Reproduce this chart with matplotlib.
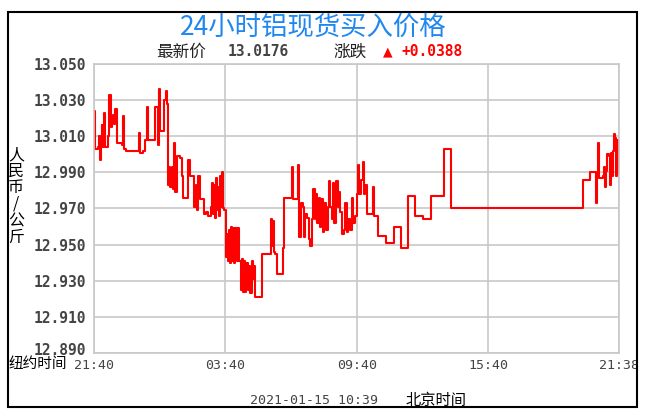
import matplotlib
matplotlib.use("Agg")
import matplotlib.pyplot as plt
from matplotlib.patches import Rectangle
from matplotlib.transforms import ScaledTranslation

# minutes after 21:40 (New York time) and price, held until the next point
t_min = [
    0, 3, 12, 15, 17, 18, 21, 23, 28, 30, 37, 39, 42, 46, 48, 52, 55, 58, 62, 76,
    79, 81, 89, 124, 126, 133, 140, 144, 147, 167, 174, 176, 179, 181, 193, 196,
    200, 202, 205, 208, 213, 216, 219, 222, 226, 236, 240, 245, 258, 263, 274,
    279, 281, 286, 290, 300, 307, 313, 320, 322, 325, 329, 331, 334, 337, 340,
    342, 345, 348, 351, 353, 357, 361, 363, 366, 369, 372, 374, 377, 380, 383,
    387, 391, 394, 398, 403, 405, 408, 411, 414, 417, 421, 425, 428, 432, 435,
    437, 440, 461, 484, 487, 489, 492, 496, 500, 517, 520, 543, 546, 560, 562,
    566, 572, 575, 579, 584, 588, 592, 596, 601, 605, 608, 612, 615, 619, 623,
    626, 631, 635, 640, 643, 646, 651, 655, 658, 662, 667, 671, 675, 679, 684,
    688, 692, 697, 701, 706, 710, 716, 720, 723, 727, 730, 736, 740, 743, 747,
    763, 766, 779, 800, 822, 840, 861, 879, 902, 922, 960, 979, 1339, 1359,
    1375, 1378, 1381, 1384, 1393, 1397, 1400, 1402, 1406, 1410, 1412, 1415,
    1418, 1421, 1424, 1428, 1431, 1433, 1436, 1438,
]
price = [
    13.024, 13.003, 13.004, 13.010, 12.997, 13.004, 13.016, 13.004, 13.023,
    13.004, 13.005, 13.010, 13.033, 13.015, 13.018, 13.022, 13.017, 13.025,
    13.006, 13.005, 13.021, 13.003, 13.002, 13.012, 13.001, 13.002, 13.008,
    13.026, 13.008, 13.026, 13.025, 13.005, 13.036, 13.013, 13.030, 13.035,
    13.028, 12.983, 12.993, 12.982, 12.993, 12.981, 13.006, 12.979, 12.999,
    12.998, 12.988, 12.976, 12.997, 12.988, 12.971, 12.983, 12.969, 12.988,
    12.975, 12.967, 12.968, 12.966, 12.971, 12.984, 12.967, 12.983, 12.965,
    12.987, 12.969, 12.982, 12.966, 12.988, 12.971, 12.990, 12.970, 12.969,
    12.943, 12.956, 12.941, 12.958, 12.940, 12.960, 12.941, 12.959, 12.940,
    12.959, 12.941, 12.959, 12.941, 12.925, 12.942, 12.924, 12.941, 12.924,
    12.940, 12.925, 12.938, 12.923, 12.941, 12.931, 12.938, 12.921, 12.945,
    12.964, 12.949, 12.963, 12.946, 12.945, 12.934, 12.948, 12.976, 12.993,
    12.975, 12.994, 12.954, 12.973, 12.971, 12.954, 12.967, 12.965, 12.953,
    12.949, 12.964, 12.981, 12.964, 12.978, 12.962, 12.976, 12.960, 12.975,
    12.957, 12.973, 12.958, 12.971, 12.985, 12.971, 12.964, 12.984, 12.962,
    12.985, 12.971, 12.979, 12.968, 12.956, 12.958, 12.973, 12.957, 12.964,
    12.958, 12.976, 12.962, 12.966, 12.978, 12.994, 12.978, 12.986, 12.996,
    12.978, 12.983, 12.967, 12.982, 12.966, 12.955, 12.951, 12.960, 12.948,
    12.977, 12.966, 12.964, 12.977, 13.003, 12.970, 12.986, 12.990, 12.973,
    12.989, 13.006, 12.987, 12.988, 12.993, 12.982, 12.991, 13.000, 12.999,
    12.983, 13.001, 12.988, 13.002, 13.011, 13.009, 12.988, 13.008, 12.989,
    12.989,
]

y_ticks = [12.89, 12.91, 12.93, 12.95, 12.97, 12.99, 13.01, 13.03, 13.05]
x_ticks = [0, 360, 720, 1080, 1438]
x_labels = ["21:40", "03:40", "09:40", "15:40", "21:38"]

title = "24小时铝现货买入价格"
latest = "13.0176"
change = "+0.0388"
stamp = "2021-01-15 10:39"

CJK = ["Noto Sans CJK SC", "DejaVu Sans"]
W, H = 646, 417


def fx(x):
    return x / W


def fy(y):
    return 1 - y / H


fig = plt.figure(figsize=(W / 100, H / 100), dpi=100)
ax = fig.add_axes([fx(94), fy(353), fx(619) - fx(94), fy(64) - fy(353)])

ax.plot(t_min, price, drawstyle="steps-post", color="#ff0000", lw=1.5)

ax.set_xlim(0, 1438)
ax.set_ylim(12.89, 13.05)
ax.set_yticks(y_ticks)
ax.set_yticklabels([f"{v:.3f}" for v in y_ticks], family="DejaVu Sans Mono",
                   fontweight="bold", fontsize=10.5, color="#444444")
ax.set_xticks(x_ticks)
ax.set_xticklabels(x_labels, family="DejaVu Sans Mono", fontsize=9.5,
                   color="#444444")
ax.tick_params(axis="y", length=0, pad=6)
ax.tick_params(axis="x", length=0, pad=4)
ax.grid(True, color="#c8c8c8", lw=1.2)
for s in ax.spines.values():
    s.set_color("#c8c8c8")
    s.set_linewidth(1.2)

# the lowest price label sits a little above its gridline
low = ax.get_yticklabels()[0]
low.set_transform(low.get_transform() + ScaledTranslation(0, 3 / 72, fig.dpi_scale_trans))

# outer frame
fig.patches.append(Rectangle((fx(8), fy(407)), fx(637) - fx(8), fy(12) - fy(407),
                             transform=fig.transFigure, fill=False,
                             edgecolor="black", lw=1.5))

fig.text(fx(313), fy(27), title, family=CJK, fontsize=19, color="#1e88f0",
         ha="center", va="center")

fig.text(fx(156), fy(52), "最新价", family=CJK, fontsize=12, color="#222222",
         va="center")
fig.text(fx(228), fy(52), latest, family="DejaVu Sans Mono", fontweight="bold",
         fontsize=10.5, color="#444444", va="center")
fig.text(fx(333), fy(52), "涨跌", family=CJK, fontsize=12, color="#222222",
         va="center")
fig.text(fx(383), fy(52), "▲", family="DejaVu Sans", fontsize=9, color="#ff0000",
         va="center")
fig.text(fx(402), fy(52), change, family="DejaVu Sans Mono", fontweight="bold",
         fontsize=10.5, color="#ff0000", va="center")

fig.text(fx(16), fy(196), "人\n民\n币\n/\n公\n斤", family=CJK, fontsize=11.5,
         ha="center", va="center", linespacing=0.95)
fig.text(fx(9), fy(364), "纽约时间", family=CJK, fontsize=10.5, va="center")

fig.text(fx(250), fy(400), stamp, family="DejaVu Sans Mono", fontsize=9.5,
         color="#444444", va="center")
fig.text(fx(406), fy(400), "北京时间", family=CJK, fontsize=11, va="center")

fig.savefig("out.png", dpi=100)
